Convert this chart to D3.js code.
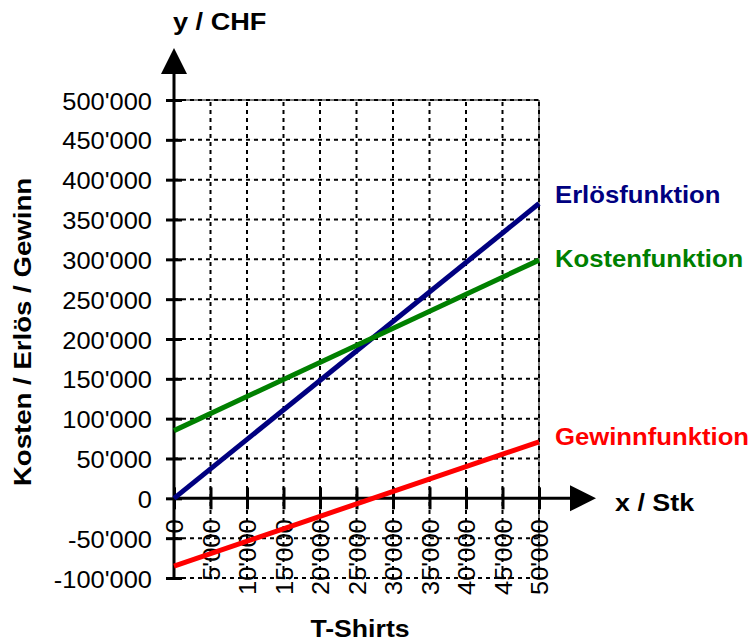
<!DOCTYPE html>
<html>
<head>
<meta charset="utf-8">
<script src="https://cdn.jsdelivr.net/npm/d3@7"></script>
<style>
  body { margin: 0; background: #fff; }
  text { font-family: "Liberation Sans", Arial, sans-serif; }
</style>
</head>
<body>
<div id="chart"></div>
<script>
var width = 753,
    height = 644;

// data
var stk = [0, 50000];
var erloes = [0, 370000];
var kosten = [85000, 299000];
var gewinn = [-85000, 71000];
var xTicks = [0, 5000, 10000, 15000, 20000, 25000, 30000, 35000, 40000, 45000, 50000];
var yTicks = [-100000, -50000, 0, 50000, 100000, 150000, 200000, 250000, 300000, 350000, 400000, 450000, 500000];

var series = [
    {name: "Erlösfunktion", values: erloes, color: "#000080", ly: 203},
    {name: "Kostenfunktion", values: kosten, color: "#008000", ly: 267},
    {name: "Gewinnfunktion", values: gewinn, color: "#ff0000", ly: 445}
];

var fmt = d3.formatLocale({decimal: ".", thousands: "'", grouping: [3], currency: ["", ""], minus: "-"}).format(",");

var x = d3.scaleLinear().domain([0, 50000]).range([174, 539]);
var y = d3.scaleLinear().domain([-100000, 500000]).range([578, 100]);

var svg = d3.select("#chart").append("svg")
    .attr("width", width)
    .attr("height", height);

// text in the picture is a bit wider than Arial
function stretch(sel, k) {
    sel.each(function () {
        var len = this.getComputedTextLength();
        d3.select(this).attr("textLength", len * k).attr("lengthAdjust", "spacingAndGlyphs");
    });
}

// grid
var grid = svg.append("g");
grid.selectAll("line.h")
    .data(yTicks.filter(function (d) { return d !== 0; }))
    .enter().append("line")
    .attr("x1", x(0)).attr("x2", x(50000))
    .attr("y1", function (d) { return y(d); })
    .attr("y2", function (d) { return y(d); })
    .attr("stroke", "#000").attr("stroke-width", 2)
    .attr("stroke-dasharray", "4,4");
grid.selectAll("line.v")
    .data(xTicks.filter(function (d) { return d !== 0; }))
    .enter().append("line")
    .attr("y1", y(-100000)).attr("y2", y(500000))
    .attr("x1", function (d) { return x(d); })
    .attr("x2", function (d) { return x(d); })
    .attr("stroke", "#000").attr("stroke-width", 2)
    .attr("stroke-dasharray", "4,4");
// border top / right
grid.append("path")
    .attr("d", "M" + x(0) + "," + y(500000) + "H" + x(50000) + "V" + y(-100000))
    .attr("fill", "none").attr("stroke", "#000").attr("stroke-width", 1);

// axes
var yAxis = svg.append("g")
    .attr("transform", "translate(" + x(0) + ",0)")
    .call(d3.axisLeft(y).tickValues(yTicks).tickFormat(fmt).tickSizeOuter(0));
yAxis.select(".domain").remove();
yAxis.selectAll(".tick line").attr("x1", -8).attr("x2", 8).attr("stroke-width", 3);
yAxis.selectAll(".tick text")
    .attr("x", -22).attr("dy", "0.38em")
    .style("font-size", "24px").attr("fill", "#000")
    .call(stretch, 1.06);

var xAxis = svg.append("g")
    .attr("transform", "translate(0," + y(0) + ")")
    .call(d3.axisBottom(x).tickValues(xTicks).tickFormat(fmt).tickSizeOuter(0));
xAxis.select(".domain").remove();
xAxis.selectAll(".tick line").attr("y1", -11).attr("y2", 11).attr("stroke-width", 3);
xAxis.selectAll(".tick text")
    .attr("y", 0).attr("dy", 0)
    .attr("transform", "translate(0,21) rotate(-90)")
    .attr("text-anchor", "end")
    .attr("dominant-baseline", "central")
    .style("font-size", "24px").attr("fill", "#000")
    .call(stretch, 1.06);

// axis lines with arrows
svg.append("line")
    .attr("x1", x(0)).attr("x2", x(0))
    .attr("y1", y(-100000)).attr("y2", 70)
    .attr("stroke", "#000").attr("stroke-width", 3);
svg.append("path")
    .attr("d", "M" + x(0) + ",48L" + (x(0) + 13) + ",74L" + (x(0) - 13) + ",74Z")
    .attr("fill", "#000");
svg.append("line")
    .attr("x1", x(0)).attr("x2", 572)
    .attr("y1", y(0)).attr("y2", y(0))
    .attr("stroke", "#000").attr("stroke-width", 3);
svg.append("path")
    .attr("d", "M596," + y(0) + "L570," + (y(0) - 13) + "L570," + (y(0) + 13) + "Z")
    .attr("fill", "#000");

// function lines
var line = d3.line()
    .x(function (d, i) { return x(stk[i]); })
    .y(function (d) { return y(d); });

svg.selectAll("path.series")
    .data(series)
    .enter().append("path")
    .attr("class", "series")
    .attr("d", function (d) { return line(d.values); })
    .attr("fill", "none")
    .attr("stroke", function (d) { return d.color; })
    .attr("stroke-width", 5);

svg.selectAll("text.lbl")
    .data(series)
    .enter().append("text")
    .attr("class", "lbl")
    .attr("x", 555)
    .attr("y", function (d) { return d.ly; })
    .attr("fill", function (d) { return d.color; })
    .style("font-size", "24px").style("font-weight", "bold")
    .text(function (d) { return d.name; })
    .call(stretch, 1.07);

// titles
svg.append("text")
    .attr("x", 173).attr("y", 30)
    .style("font-size", "24px").style("font-weight", "bold")
    .text("y / CHF").call(stretch, 1.13);
svg.append("text")
    .attr("x", 615).attr("y", 511)
    .style("font-size", "24px").style("font-weight", "bold")
    .text("x / Stk").call(stretch, 1.12);
svg.append("text")
    .attr("x", 360).attr("y", 637)
    .attr("text-anchor", "middle")
    .style("font-size", "24px").style("font-weight", "bold")
    .text("T-Shirts").call(stretch, 1.11);
svg.append("text")
    .attr("transform", "translate(31,332) rotate(-90)")
    .attr("text-anchor", "middle")
    .style("font-size", "24px").style("font-weight", "bold")
    .text("Kosten / Erlös / Gewinn").call(stretch, 1.15);
</script>
</body>
</html>
